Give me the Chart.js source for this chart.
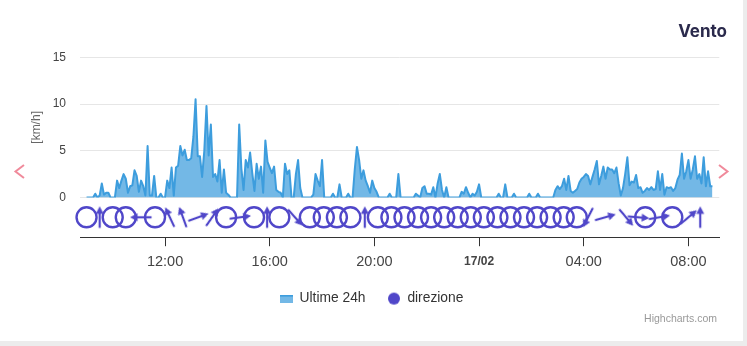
<!DOCTYPE html>
<html>
<head>
<meta charset="utf-8">
<script src="https://cdn.jsdelivr.net/npm/chart.js@4.4.1/dist/chart.umd.min.js"></script>
<style>
    html, body { margin: 0; padding: 0; background: #ececec; }
    #card { position: absolute; left: 0; top: 0; width: 743px; height: 341px; background: #fff; overflow: hidden; }
    #chart { position: absolute; left: 0; top: 0; }
    #title { position: absolute; right: 16px; top: 21px; line-height: 20px; font: 700 17px Inter, "Noto Sans", sans-serif; color: #2b2a4c; }
    #credits { position: absolute; right: 26px; top: 312px; line-height: 12px; font: 10.5px "Liberation Sans", Arial, sans-serif; color: #999; }
    .nav { position: absolute; top: 162px; }
</style>
</head>
<body>
<div id="card">
    <canvas id="chart" width="743" height="341"></canvas>
    <div id="title">Vento</div>
    <div id="credits">Highcharts.com</div>
    <svg class="nav" style="left:12px" width="16" height="20"><polyline points="12,3 3.5,9.5 12,16" fill="none" stroke="#f08a9b" stroke-width="2"/></svg>
    <svg class="nav" style="left:716px" width="16" height="20"><polyline points="3,3 11.5,9.5 3,16" fill="none" stroke="#f08a9b" stroke-width="2"/></svg>
</div>
<script>
// wind speed, km/h, one value every 5 minutes starting 09:00 (16/02)
const speedStart = "09:00"
const speedStepMin = 5
const speed = [
    0,0,0,0,0.4,0,0.2,1.5,0.3,0.5,0.5,0,0,0,1.8,1.0,1.8,2.5,2.0,0.5,1.2,1.3,2.9,2.3,          // 09-11
    0.6,1.8,1.2,0.2,5.5,0.2,0.2,2.3,0,0,0.4,0,0,1.8,1.0,3.2,0.2,3.2,3.4,5.5,4.5,5.1,4.0,4.0,  // 11-13
    4.2,6.5,10.5,4.4,4.4,2.2,5.0,9.8,4.5,7.8,2.2,2.5,1.7,4.0,0.5,3.0,0.5,0.3,0,0,0,0,7.8,3.1, // 13-15
    0.8,4.0,3.2,4.8,2.6,0.7,3.6,2.0,3.3,0.5,6.1,3.8,3.2,2.6,3.3,0.8,0.6,0.5,0,3.6,2.5,2.9,0,0, // 15-17
    2.5,4.0,1.0,0,0,0,0,0,0.3,2.5,1.8,1.2,4.0,0,0,0,0,0.4,0,0,1.4,0,0,0,                      // 17-19
    0.4,0,0,3.0,5.4,4.0,2.0,2.9,1.8,1.2,0.5,1.8,1.0,0.6,0,0,0,0,0,0.4,0,0,0,2.5,              // 19-21
    0,0,0,0,0,0,0,0.4,0.2,0,1.0,1.2,0.4,0.4,0.3,1.1,0,1.5,2.5,0.8,0,1.1,0,0,                  // 21-23
    0,0,0,0,0.6,0.4,1.1,0.5,0,0.4,0.2,0.6,1.4,0,0,0,0,0,0,0,0,0.4,0,0,                        // 23-01
    1.4,0,0,0,0.4,0,0,0,0,0,0,0.4,0,0,0,0.4,0,0,0,0,0,0,0,0.8,                                // 01-03
    1.2,0.9,1.2,2.0,0.8,2.3,0.7,0.5,0.7,0.9,1.6,2.0,2.2,2.5,2.3,1.4,2.2,3.0,3.9,1.4,2.3,3.3,2.0,3.2, // 03-05
    3.0,3.0,2.6,3.2,1.5,0.2,1.0,2.5,4.3,1.3,1.7,1.6,2.4,1.0,1.1,0.5,0.7,1.0,0.8,1.1,0.8,0.9,2.8,0.8, // 05-07
    2.5,0.3,1.1,1.0,1.1,0.7,1.0,1.9,2.4,4.7,2.0,2.8,4.0,2.0,3.0,4.4,2.0,2.5,1.5,4.3,1.2,2.8,1.2,1.2  // 07-09
]

// wind direction markers: time and arrow heading in degrees (null = calm, drawn as a circle)
const dirTimes = ["09:00","09:30","10:00","10:30","11:05","11:37","12:11","12:41","13:16","13:48",
    "14:20","14:52","15:24","15:54","16:22","16:58","17:32","18:04","18:34","19:05","19:38","20:08",
    "20:39","21:09","21:40","22:10","22:40","23:11","23:41","00:11","00:42","01:12","01:43","02:13",
    "02:44","03:14","03:44","04:10","04:49","05:37","06:05","06:21","06:53","07:23","08:00","08:27"]
const dirAngles = [null,0,null,null,270,null,335,340,70,35,
    null,82,null,0,null,138,null,null,null,null,0,null,
    null,null,null,null,null,null,null,null,null,null,null,null,
    null,null,null,207,74,140,95,null,80,null,50,0]

const tickHours = [12, 16, 20, 24, 28, 32]
const tickLabels = ["12:00", "16:00", "20:00", "17/02", "04:00", "08:00"]

const dirColor = "#5047c9"

function toHours(s){
    var parts = s.split(":").map(Number)
    var h = parts[0] + parts[1] / 60
    if (h < 9) h += 24 //next day
    return h
}

function makeArrow(color){
    var c = document.createElement("canvas")
    c.width = 26
    c.height = 26
    var g = c.getContext("2d")
    g.strokeStyle = color
    g.fillStyle = color
    g.lineWidth = 2.2
    g.beginPath()
    g.moveTo(13, 23.5)
    g.lineTo(13, 7)
    g.stroke()
    g.beginPath()
    g.moveTo(13, 2)
    g.lineTo(17, 9.5)
    g.lineTo(9, 9.5)
    g.closePath()
    g.fill()
    return c
}

function makeAreaIcon(){
    var c = document.createElement("canvas")
    c.width = 13
    c.height = 8
    var g = c.getContext("2d")
    g.fillStyle = "rgba(61,157,221,0.72)"
    g.fillRect(0, 1, 13, 7)
    g.fillStyle = "#3d9ddd"
    g.fillRect(0, 0, 13, 2)
    return c
}

function makeDot(color){
    var c = document.createElement("canvas")
    c.width = 14
    c.height = 14
    var g = c.getContext("2d")
    g.fillStyle = color
    g.beginPath()
    g.arc(7, 7, 6, 0, Math.PI * 2)
    g.fill()
    return c
}

const arrowImg = makeArrow(dirColor)
const start = toHours(speedStart)
const speedPoints = speed.map((v, i) => ({x: start + i * speedStepMin / 60, y: v}))
const dirPoints = dirTimes.map(t => ({x: toHours(t), y: 0}))

Chart.defaults.font.family = '"Liberation Sans", Arial, sans-serif'

new Chart(document.getElementById("chart"), {
    type: "line",
    data: {
        datasets: [
            {
                label: "Ultime 24h",
                data: speedPoints,
                yAxisID: "y",
                borderColor: "#3d9ddd",
                backgroundColor: "rgba(61,157,221,0.72)",
                borderWidth: 2,
                borderJoinStyle: "round",
                fill: "origin",
                pointRadius: 0,
                tension: 0
            },
            {
                label: "direzione",
                data: dirPoints,
                yAxisID: "yd",
                showLine: false,
                clip: false,
                pointStyle: dirAngles.map(a => a === null ? "circle" : arrowImg),
                pointRotation: dirAngles.map(a => a === null ? 0 : a),
                pointRadius: 10,
                pointBorderWidth: 2.4,
                pointBorderColor: dirColor,
                pointBackgroundColor: "rgba(0,0,0,0)"
            }
        ]
    },
    options: {
        responsive: false,
        animation: false,
        events: [],
        devicePixelRatio: 1,
        layout: { padding: { left: 23.7, right: 23.7, top: 57.3, bottom: 25.5 } },
        scales: {
            x: {
                type: "linear",
                min: 8.75,
                max: 33.18,
                afterBuildTicks: s => { s.ticks = tickHours.map(v => ({value: v})) },
                afterFit: s => { s.height = 32.5 },
                grid: { drawOnChartArea: false, drawTicks: true, tickLength: 9, color: "#333" },
                border: { display: true, color: "#333", width: 1 },
                ticks: {
                    padding: 7,
                    color: "#444",
                    maxRotation: 0,
                    autoSkip: false,
                    callback: v => tickLabels[tickHours.indexOf(v)],
                    font: c => (c.tick && c.tick.value === 24)
                        ? {size: 12, weight: "bold", lineHeight: 1.45}
                        : {size: 14.5}
                }
            },
            y: {
                stack: "v",
                stackWeight: 141,
                weight: 1,
                min: 0,
                max: 15,
                afterFit: s => { s.width = 56.3 },
                grid: { color: "#e6e6e6", drawTicks: false },
                border: { display: false },
                ticks: { stepSize: 5, padding: 14, color: "#444", font: {size: 12} },
                title: { display: true, text: "[km/h]", color: "#666", font: {size: 12}, padding: {top: 6, bottom: 0} }
            },
            yd: {
                stack: "v",
                stackWeight: 40,
                weight: 0,
                min: -1,
                max: 1,
                grid: { display: false },
                border: { display: false },
                ticks: { display: false }
            }
        },
        plugins: {
            tooltip: { enabled: false },
            legend: {
                position: "bottom",
                labels: {
                    usePointStyle: true,
                    pointStyleWidth: 13,
                    boxHeight: 13,
                    padding: 22,
                    color: "#333",
                    font: { size: 13.8 },
                    generateLabels: chart => [
                        { text: "Ultime 24h", pointStyle: makeAreaIcon(), datasetIndex: 0, hidden: false, lineWidth: 0, fillStyle: "rgba(0,0,0,0)", strokeStyle: "rgba(0,0,0,0)", fontColor: "#333" },
                        { text: "direzione", pointStyle: makeDot(dirColor), datasetIndex: 1, hidden: false, lineWidth: 0, fillStyle: "rgba(0,0,0,0)", strokeStyle: "rgba(0,0,0,0)", fontColor: "#333" }
                    ]
                }
            }
        }
    }
})
</script>
</body>
</html>
